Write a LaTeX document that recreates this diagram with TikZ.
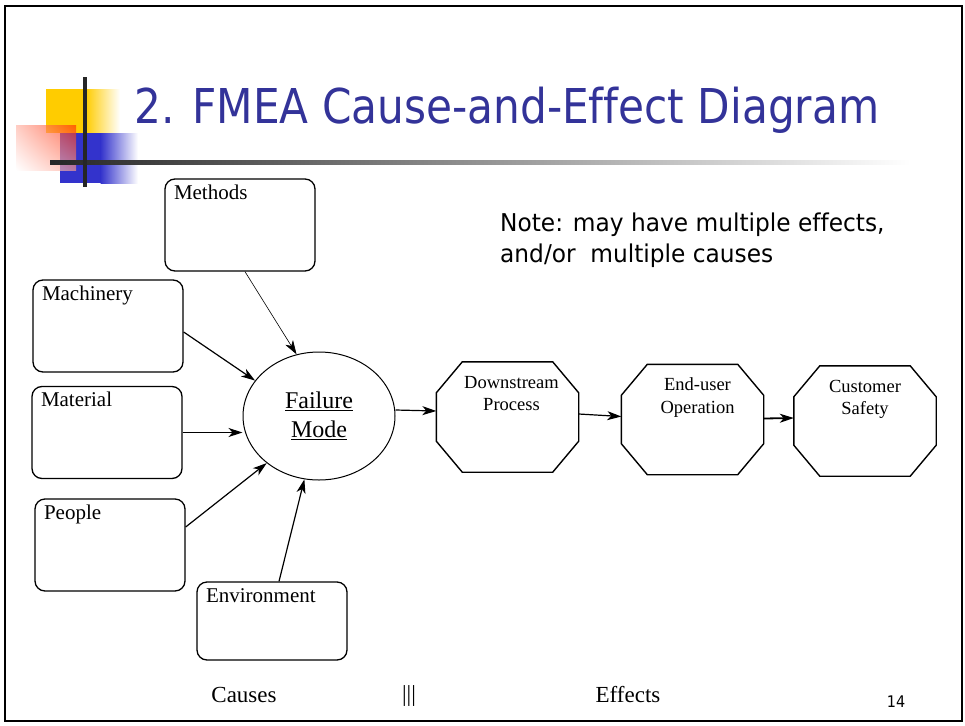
\documentclass[tikz,border=0pt]{standalone}
\usepackage{fontspec}
\setmainfont{Liberation Serif}
\newfontfamily\slidefont[Ligatures=NoCommon]{DejaVu Sans}
\usetikzlibrary{arrows.meta,shapes.geometric,shadings}
\definecolor{titleblue}{RGB}{51,51,153}
\definecolor{decoyellow}{RGB}{255,204,0}
\definecolor{decoblue}{RGB}{51,51,204}
\definecolor{decored}{RGB}{255,40,0}

\begin{document}
\begin{tikzpicture}[x=1pt,y=-1pt,
	cause/.style={draw,line width=1.3pt,rounded corners=10pt,inner xsep=9pt,inner ysep=5pt,
		text width=132pt,align=left,text height=15pt,text depth=67pt,font=\fontsize{21}{25}\selectfont},
	effect/.style={inner sep=0pt,text width=142pt,align=center,text height=26pt,text depth=84pt,
		font=\fontsize{18.5}{22.5}\selectfont},
	link/.style={-{Stealth[length=14pt,width=9pt,inset=4pt]},line width=1.2pt},
	caption/.style={inner sep=0pt,font=\fontsize{23}{27}\selectfont}]
	\useasboundingbox (0,0) rectangle (965,725);
	\fill[white] (0,0) rectangle (965,725);
	\draw[line width=2.5pt] (5,6) rectangle (962,721);

	\fill[decoyellow] (46,89) rectangle (86,133);
	\shade[left color=decoyellow,right color=white] (85.5,89) rectangle (120,133);
	\fill[decoblue] (60,133) rectangle (101,183);
	\shade[left color=decoblue,right color=white] (100.5,133) rectangle (138,183);
	\shade[upper right=decored,upper left=decored!35,lower right=decored!45,lower left=white,opacity=0.65] (16,125) rectangle (76,170);
	\shade[left color=black!85,middle color=black!65,right color=white] (50,160) rectangle (910,164.5);
	\draw[black!85,line width=4pt] (85,77) -- (85,187);

	\node[anchor=base west,inner sep=0pt,text=titleblue,font=\slidefont\fontsize{48}{48}\selectfont] (title) at (134,123)
		{\scalebox{0.88}[1]{2. FMEA Cause-and-Effect Diagram}};
	\node[anchor=north west,inner sep=0pt,align=left,font=\slidefont\fontsize{24.5}{31}\selectfont] (note) at (500,213)
		{\scalebox{0.95}[1]{Note: may have multiple effects,}\\\scalebox{0.95}[1]{and/or\ \ multiple causes}};

	\node[cause] (methods) at (240,225) {Methods};
	\node[cause] (machinery) at (108,326) {Machinery};
	\node[cause] (material) at (107,432.5) {Material};
	\node[cause] (people) at (110,545) {People};
	\node[cause,text depth=53pt] (environment) at (272,621) {Environment};

	\node[draw,ellipse,line width=1pt,minimum width=152pt,minimum height=128pt,inner sep=0pt,align=center,
		font=\fontsize{24}{29}\selectfont] (failure) at (319,416) {\underline{Failure}\\\underline{Mode}};

	\node[effect] (downstream) at (507.5,417) {\hspace*{8pt}Downstream\\\hspace*{8pt}Process};
	\node[effect] (enduser) at (692.5,419.5) {\hspace*{10pt}End-user\\\hspace*{10pt}Operation};
	\node[effect] (customer) at (865,421) {Customer\\Safety};
	\foreach \n in {downstream,enduser,customer}
		\draw[line width=1.4pt] ([xshift=26pt]\n.north west) -- ([xshift=-26pt]\n.north east) -- ([yshift=-31pt]\n.north east)
			-- ([yshift=31pt]\n.south east) -- ([xshift=-26pt]\n.south east) -- ([xshift=26pt]\n.south west)
			-- ([yshift=31pt]\n.south west) -- ([yshift=-31pt]\n.north west) -- cycle;

	\draw[link,line width=0.6pt] ([xshift=5pt]methods.south) -- (failure.110);
	\draw[link] ([yshift=-6pt]machinery.east) -- (failure.151);
	\draw[link] (material.east) -- (material.east -| failure.west);
	\draw[link] ([yshift=18pt]people.east) -- (failure.222);
	\draw[link] ([xshift=7pt]environment.north) -- (failure.257);
	\draw[link] ([yshift=6pt]failure.east) -- ([yshift=6pt]downstream.west);
	\draw[link] ([yshift=3pt]downstream.east) -- ([yshift=3pt]enduser.west);
	\draw[link,line width=1.8pt] ([yshift=1pt]enduser.east) -- ([yshift=3pt]customer.west);

	\node[caption] (causes) at (244,695) {Causes};
	\node[caption] (divider) at (409,696) {|||};
	\node[caption] (effects) at (628,695) {Effects};
	\node[inner sep=0pt,font=\slidefont\fontsize{16}{16}\selectfont] (pagenum) at (896,702) {\scalebox{0.9}[1]{14}};
\end{tikzpicture}
\end{document}
